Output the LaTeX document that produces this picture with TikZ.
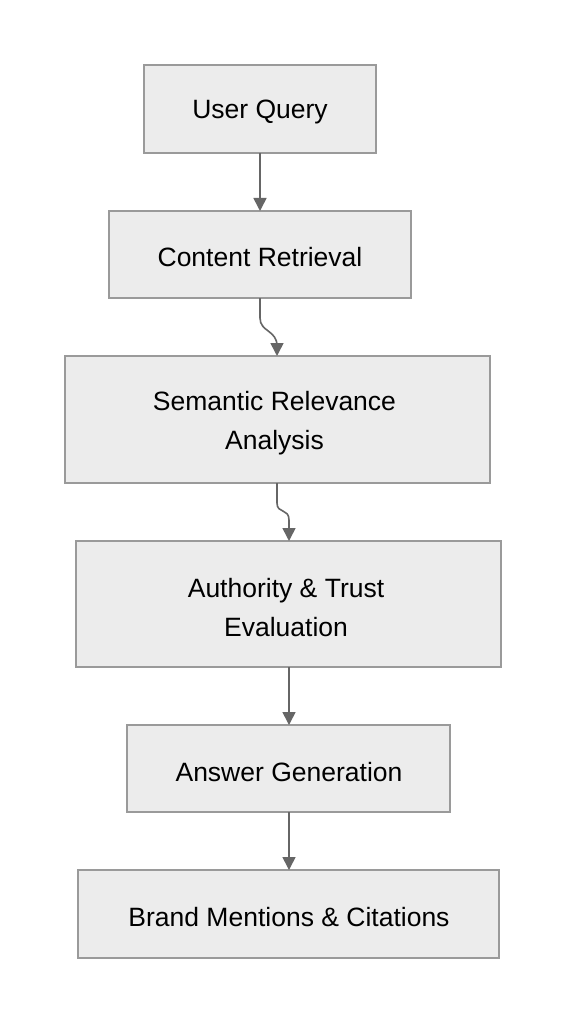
\documentclass[tikz,border=0pt]{standalone}
\usepackage{fontspec}
\setmainfont{Liberation Sans}
\usetikzlibrary{arrows.meta}
\definecolor{boxfill}{HTML}{ECECEC}
\definecolor{boxline}{HTML}{9A9A9A}
\definecolor{arrowc}{HTML}{666666}
\begin{document}
\begin{tikzpicture}[x=1pt,y=-1pt,
  box/.style={draw=boxline,fill=boxfill,line width=1.2pt},
  lbl/.style={font=\fontsize{26.5}{39.5}\selectfont,align=center,text=black},
  conn/.style={draw=arrowc,line width=1.6pt,-{Triangle[length=13pt,width=13pt]}}]
\useasboundingbox[fill=white] (0,0) rectangle (566,1024);
\draw[box] (144,65) rectangle (376,153);
\node[lbl] (n1) at (260,112) {User Query};
\draw[box] (109,211) rectangle (411,298);
\node[lbl] (n2) at (260,257.5) {Content Retrieval};
\draw[box] (65,356) rectangle (490,483);
\node[lbl] (n3) at (274.5,423) {Semantic Relevance\\Analysis};
\draw[box] (76,541) rectangle (501,667);
\node[lbl] (n4) at (286,607.5) {Authority \& Trust\\Evaluation};
\draw[box] (127,725) rectangle (450,812);
\node[lbl] (n5) at (289,772) {Answer Generation};
\draw[box] (78,870) rectangle (499,958);
\node[lbl] (n6) at (289,917) {Brand Mentions \& Citations};
\coordinate (a1) at (260,153);
\coordinate (b1) at (260,211);
\coordinate (a2) at (260,298);
\coordinate (b2) at (277,356);
\coordinate (a3) at (277,483);
\coordinate (b3) at (289,541);
\coordinate (a4) at (289,667);
\coordinate (b4) at (289,725);
\coordinate (a5) at (289,812);
\coordinate (b5) at (289,870);
\draw[conn] (a1) -- (b1);
\draw[conn] (a2) -- (260,318) .. controls (260,332) and (277,330) .. (277,346) -- (b2);
\draw[conn] (a3) -- (277,503) .. controls (277,514) and (289,508) .. (289,520) -- (b3);
\draw[conn] (a4) -- (b4);
\draw[conn] (a5) -- (b5);
\end{tikzpicture}
\end{document}
